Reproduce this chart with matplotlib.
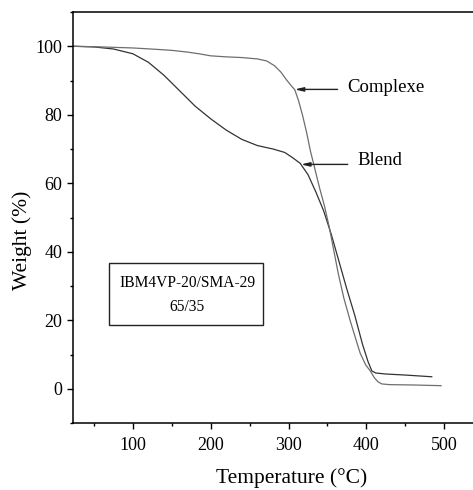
import matplotlib
matplotlib.use("Agg")
import matplotlib.pyplot as plt
from matplotlib.patches import Rectangle
from matplotlib.ticker import MultipleLocator

plt.rcParams['font.family'] = ['Liberation Serif', 'DejaVu Serif']

# TGA curves, temperature (°C) vs remaining weight (%)
complexe_temp = [23, 60, 100, 130, 150, 170, 185, 200, 220, 240, 260, 272, 282,
                 290, 297, 303, 308, 313, 318, 323, 328, 334, 340, 346, 352,
                 358, 364, 371, 379, 386, 392, 399, 405, 410, 415, 420, 430,
                 460, 496]
complexe_wt = [100, 99.8, 99.5, 99.1, 98.8, 98.3, 97.8, 97.2, 96.9, 96.7, 96.3,
               95.7, 94.3, 92.5, 90.3, 88.6, 87.3, 84.0, 79.8, 75.0, 69.5,
               64.0, 58.5, 53.5, 47.5, 40.5, 33.5, 26.5, 20.0, 14.8, 10.4,
               7.0, 5.2, 3.3, 2.0, 1.4, 1.2, 1.1, 0.9]

blend_temp = [23, 50, 75, 100, 120, 140, 160, 180, 200, 220, 240, 260, 280,
              295, 305, 315, 325, 335, 345, 355, 365, 375, 385, 395, 402, 407,
              412, 425, 450, 484]
blend_wt = [100, 99.8, 99.2, 97.8, 95.3, 91.5, 87.0, 82.5, 78.8, 75.5, 72.8,
            71.0, 70.0, 69.0, 67.5, 65.8, 62.5, 57.5, 52.0, 45.0, 37.0, 29.0,
            21.5, 13.0, 8.0, 5.2, 4.6, 4.3, 4.0, 3.5]

x_ticks = [100, 200, 300, 400, 500]
y_ticks = [0, 20, 40, 60, 80, 100]

fig = plt.figure(figsize=(4.73, 4.90), dpi=100)
ax = fig.add_axes([73 / 473, 1 - 423 / 490, 400 / 473, 411 / 490])

ax.plot(blend_temp, blend_wt, color='#333333', lw=0.9)
ax.plot(complexe_temp, complexe_wt, color='#6e6e6e', lw=0.9)

ax.set_xlim(23, 537)
ax.set_ylim(-10, 110)
ax.set_xticks(x_ticks)
ax.set_yticks(y_ticks)
ax.xaxis.set_minor_locator(MultipleLocator(50))
ax.yaxis.set_minor_locator(MultipleLocator(10))
ax.tick_params(which='major', direction='out', length=4, width=1, labelsize=13)
ax.tick_params(which='minor', direction='out', length=2.5, width=1)
ax.tick_params(axis='x', pad=6)

for side in ['left', 'bottom', 'top']:
    ax.spines[side].set_linewidth(1.1)
ax.spines['right'].set_visible(False)

ax.set_xlabel('Temperature (°C)', fontsize=15.5, va='center')
ax.xaxis.set_label_coords(0.5475, -0.134)
ax.set_ylabel('Weight (%)', fontsize=15.5, va='center')
ax.yaxis.set_label_coords(-0.1275, 0.445)

# curve labels with arrows
arrow_kw = dict(arrowstyle='-|>,head_length=0.5,head_width=0.12',
                color='#222222', lw=1, shrinkA=0, shrinkB=0)
ax.annotate('', xy=(308, 87.4), xytext=(363, 87.4), arrowprops=arrow_kw)
ax.text(375, 88, 'Complexe', fontsize=13.5, va='center', ha='left')
ax.annotate('', xy=(316, 65.5), xytext=(376, 65.5), arrowprops=arrow_kw)
ax.text(388, 66.5, 'Blend', fontsize=13.5, va='center', ha='left')

# sample description box
ax.add_patch(Rectangle((0.09, 0.238), 0.385, 0.151, transform=ax.transAxes,
                       fill=False, lw=1, edgecolor='#222222'))
ax.text(0.285, 0.341, 'IBM4VP-20/SMA-29', transform=ax.transAxes,
        fontsize=11.2, ha='center', va='center')
ax.text(0.285, 0.282, '65/35', transform=ax.transAxes,
        fontsize=11.2, ha='center', va='center')

fig.savefig('out.png', dpi=100)
